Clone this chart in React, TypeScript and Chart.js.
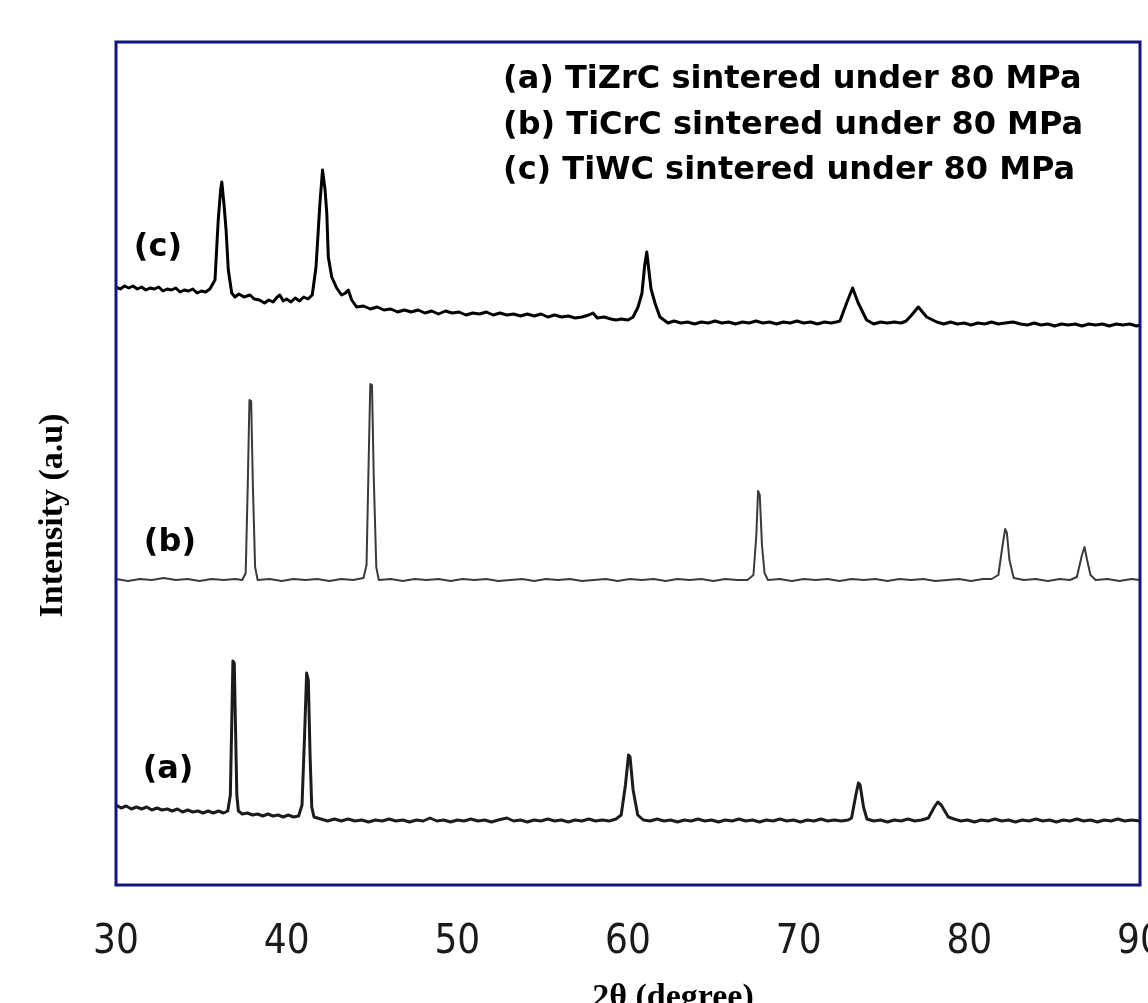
import React, { useEffect, useRef } from 'react';
import { Chart, registerables } from 'chart.js';

Chart.register(...registerables);

// ---- Data (2θ in degrees, intensity in arbitrary units) ----
const X_MIN = 30;
const X_MAX = 90;
const X_STEP = 10;
const Y_MIN = 0;
const Y_MAX = 843;

const SERIES_NAMES = ['(a)', '(b)', '(c)'];
const LEGEND_LINES = [
  '(a) TiZrC sintered under 80 MPa',
  '(b) TiCrC sintered under 80 MPa',
  '(c) TiWC sintered under 80 MPa',
];
const X_TITLE = '2θ (degree)';
const Y_TITLE = 'Intensity (a.u)';

// label anchor positions in data units (2θ, intensity)
const LABEL_X = [33.05, 33.16, 32.46];
const LABEL_Y = [115, 342, 637];

// [2θ, intensity]
const seriesA: [number, number][] = [
  [30.0, 80], [30.3, 77], [30.6, 79], [30.9, 76], [31.2, 78], [31.5, 76], [31.8, 78], [32.1, 75],
  [32.4, 77], [32.7, 75], [33.0, 76], [33.3, 74], [33.6, 76], [33.9, 73], [34.2, 75], [34.5, 73],
  [34.8, 74], [35.1, 72], [35.4, 74], [35.7, 72], [36.0, 74], [36.3, 72], [36.55, 74], [36.7, 90],
  [36.78, 160], [36.85, 224], [36.93, 222], [37.0, 160], [37.08, 90], [37.17, 74], [37.4, 71], [37.7, 72],
  [38.0, 70], [38.3, 71], [38.6, 69], [38.9, 71], [39.2, 69], [39.5, 70], [39.8, 68], [40.1, 70],
  [40.4, 68], [40.7, 69], [40.9, 80], [41.05, 150], [41.17, 212], [41.27, 205], [41.37, 130], [41.47, 78],
  [41.6, 68], [42.0, 66], [42.4, 64], [42.8, 66], [43.2, 64], [43.6, 66], [44.0, 64], [44.4, 65],
  [44.8, 63], [45.2, 65], [45.6, 64], [46.0, 66], [46.4, 64], [46.8, 65], [47.2, 63], [47.6, 65],
  [48.0, 64], [48.4, 67], [48.8, 64], [49.2, 65], [49.6, 63], [50.0, 65], [50.4, 64], [50.8, 66],
  [51.2, 64], [51.6, 65], [52.0, 63], [52.4, 65], [52.9, 67], [53.3, 64], [53.7, 65], [54.1, 63],
  [54.5, 65], [54.9, 64], [55.3, 66], [55.7, 64], [56.1, 65], [56.5, 63], [56.9, 65], [57.3, 64],
  [57.7, 66], [58.1, 64], [58.5, 65], [58.9, 64], [59.3, 66], [59.6, 70], [59.85, 100], [60.03, 130],
  [60.12, 128], [60.3, 95], [60.57, 70], [60.9, 65], [61.3, 64], [61.7, 66], [62.1, 64], [62.5, 65],
  [62.9, 63], [63.3, 65], [63.7, 64], [64.1, 66], [64.5, 64], [64.9, 65], [65.3, 63], [65.7, 65],
  [66.1, 64], [66.5, 66], [66.9, 64], [67.3, 65], [67.7, 63], [68.1, 65], [68.5, 64], [68.9, 66],
  [69.3, 64], [69.7, 65], [70.1, 63], [70.5, 65], [70.9, 64], [71.3, 66], [71.7, 64], [72.1, 65],
  [72.5, 64], [72.9, 65], [73.1, 67], [73.35, 90], [73.5, 102], [73.6, 100], [73.8, 78], [74.0, 66],
  [74.4, 64], [74.8, 65], [75.2, 63], [75.6, 65], [76.0, 64], [76.4, 66], [76.8, 64], [77.2, 65],
  [77.6, 67], [77.95, 78], [78.15, 83], [78.35, 80], [78.77, 68], [79.1, 66], [79.5, 64], [79.9, 65],
  [80.3, 63], [80.7, 65], [81.1, 64], [81.5, 66], [81.9, 64], [82.3, 65], [82.7, 63], [83.1, 65],
  [83.5, 64], [83.9, 66], [84.3, 64], [84.7, 65], [85.1, 63], [85.5, 65], [85.9, 64], [86.3, 66],
  [86.7, 64], [87.1, 65], [87.5, 63], [87.9, 65], [88.3, 64], [88.7, 66], [89.1, 64], [89.5, 65],
  [90.0, 64],
];

const seriesB: [number, number][] = [
  [30.0, 306], [30.7, 304], [31.4, 306], [32.1, 305], [32.8, 307], [33.5, 305], [34.2, 306], [34.9, 304],
  [35.6, 306], [36.3, 305], [37.0, 306], [37.4, 305], [37.6, 312], [37.72, 400], [37.82, 485], [37.92, 484],
  [38.02, 400], [38.15, 318], [38.3, 305], [39.0, 306], [39.7, 304], [40.4, 306], [41.1, 305], [41.8, 306],
  [42.5, 304], [43.2, 306], [43.9, 305], [44.5, 307], [44.68, 320], [44.8, 420], [44.9, 501], [45.0, 500],
  [45.1, 410], [45.25, 318], [45.4, 305], [46.1, 306], [46.8, 304], [47.5, 306], [48.2, 305], [48.9, 306],
  [49.6, 304], [50.3, 306], [51.0, 305], [51.7, 306], [52.4, 304], [53.1, 305], [53.8, 306], [54.5, 304],
  [55.2, 306], [55.9, 305], [56.6, 306], [57.3, 304], [58.0, 305], [58.7, 306], [59.4, 304], [60.1, 306],
  [60.8, 305], [61.5, 306], [62.2, 304], [62.9, 306], [63.6, 305], [64.3, 306], [65.0, 304], [65.7, 306],
  [66.4, 305], [67.0, 305], [67.35, 310], [67.52, 350], [67.62, 394], [67.72, 390], [67.85, 340], [68.0, 312],
  [68.2, 305], [68.9, 306], [69.6, 304], [70.3, 306], [71.0, 305], [71.7, 306], [72.4, 304], [73.1, 306],
  [73.8, 305], [74.5, 306], [75.2, 304], [75.9, 306], [76.6, 305], [77.3, 306], [78.0, 304], [78.7, 305],
  [79.4, 306], [80.1, 304], [80.8, 306], [81.3, 306], [81.7, 310], [81.95, 340], [82.1, 356], [82.2, 352],
  [82.35, 325], [82.6, 307], [83.2, 305], [83.9, 306], [84.6, 304], [85.3, 306], [85.9, 305], [86.3, 308],
  [86.6, 330], [86.75, 338], [86.9, 325], [87.1, 310], [87.4, 305], [88.1, 306], [88.8, 304], [89.5, 306],
  [90.0, 305],
];

const seriesC: [number, number][] = [
  [30.0, 598], [30.25, 596], [30.5, 599], [30.75, 597], [31.0, 599], [31.25, 596], [31.5, 598], [31.75, 595],
  [32.0, 597], [32.25, 596], [32.5, 598], [32.75, 594], [33.0, 596], [33.25, 595], [33.5, 597], [33.75, 593],
  [34.0, 595], [34.25, 594], [34.5, 596], [34.75, 592], [35.0, 594], [35.25, 593], [35.5, 596], [35.8, 605],
  [35.99, 665], [36.13, 695], [36.2, 703], [36.33, 680], [36.45, 655], [36.58, 615], [36.78, 592], [36.97, 588],
  [37.2, 591], [37.5, 588], [37.85, 590], [38.1, 586], [38.4, 585], [38.7, 582], [38.95, 585], [39.2, 583],
  [39.45, 588], [39.6, 590], [39.8, 584], [40.0, 586], [40.25, 583], [40.5, 587], [40.75, 584], [41.0, 588],
  [41.25, 586], [41.5, 590], [41.72, 618], [41.95, 682], [42.1, 715], [42.25, 695], [42.35, 672], [42.44, 628],
  [42.64, 608], [42.93, 597], [43.22, 590], [43.45, 592], [43.61, 595], [43.81, 585], [44.1, 578], [44.5, 579],
  [44.9, 576], [45.3, 578], [45.7, 575], [46.1, 576], [46.5, 573], [46.9, 575], [47.3, 573], [47.7, 575],
  [48.1, 572], [48.5, 574], [48.9, 571], [49.3, 574], [49.7, 572], [50.1, 573], [50.5, 570], [50.9, 572],
  [51.3, 571], [51.7, 573], [52.1, 570], [52.5, 572], [52.9, 570], [53.3, 571], [53.7, 569], [54.1, 571],
  [54.5, 569], [54.9, 571], [55.3, 568], [55.7, 570], [56.1, 568], [56.5, 569], [56.9, 567], [57.3, 568],
  [57.7, 570], [57.95, 572], [58.2, 567], [58.6, 568], [59.0, 566], [59.3, 565], [59.6, 566], [60.0, 565],
  [60.3, 568], [60.59, 578], [60.82, 592], [60.98, 620], [61.1, 633], [61.22, 615], [61.35, 596], [61.58, 582],
  [61.87, 568], [62.34, 562], [62.7, 564], [63.1, 562], [63.5, 563], [63.9, 561], [64.3, 563], [64.7, 562],
  [65.1, 564], [65.5, 562], [65.9, 563], [66.3, 561], [66.7, 563], [67.1, 562], [67.5, 564], [67.9, 562],
  [68.3, 563], [68.7, 561], [69.1, 563], [69.5, 562], [69.9, 564], [70.3, 562], [70.7, 563], [71.1, 561],
  [71.5, 563], [71.9, 562], [72.2, 563], [72.42, 564], [72.81, 582], [73.16, 597], [73.49, 582], [73.98, 565],
  [74.4, 561], [74.8, 563], [75.2, 562], [75.6, 563], [76.0, 562], [76.3, 564], [76.62, 570], [77.01, 578],
  [77.5, 568], [78.09, 563], [78.5, 561], [78.9, 563], [79.3, 561], [79.7, 562], [80.1, 560], [80.5, 562],
  [80.9, 561], [81.3, 563], [81.7, 561], [82.1, 562], [82.56, 563], [83.0, 561], [83.4, 560], [83.8, 562],
  [84.2, 560], [84.6, 561], [85.0, 559], [85.4, 561], [85.8, 560], [86.2, 561], [86.6, 559], [87.0, 561],
  [87.4, 560], [87.8, 561], [88.2, 559], [88.6, 561], [89.0, 560], [89.4, 561], [89.8, 559], [90.0, 560],
];

const toPoints = (pts: [number, number][]) => pts.map(([x, y]) => ({ x, y }));

const decorPlugin = {
  id: 'decor',
  afterDatasetsDraw(chart: any) {
    const { ctx, chartArea: a, scales } = chart;
    const xs = scales.x;
    const ys = scales.y;
    ctx.save();
    // frame
    ctx.strokeStyle = '#14147e';
    ctx.lineWidth = 3;
    ctx.strokeRect(a.left, a.top, a.right - a.left, a.bottom - a.top);

    // legend text
    ctx.fillStyle = '#000';
    ctx.font = 'bold 32px "DejaVu Sans", Verdana, sans-serif';
    ctx.textAlign = 'left';
    ctx.textBaseline = 'middle';
    LEGEND_LINES.forEach((t, i) => {
      ctx.fillText(t, a.left + 387, a.top + 38 + i * 45.5, 584);
    });

    // series labels
    ctx.textAlign = 'center';
    SERIES_NAMES.forEach((t, i) => {
      ctx.fillText(t, xs.getPixelForValue(LABEL_X[i]), ys.getPixelForValue(LABEL_Y[i]));
    });

    // y title
    ctx.font = 'bold 34px "Liberation Serif", "Times New Roman", serif';
    ctx.save();
    ctx.translate(53, (a.top + a.bottom) / 2 + 52);
    ctx.rotate(-Math.PI / 2);
    ctx.textAlign = 'center';
    ctx.textBaseline = 'middle';
    ctx.fillText(Y_TITLE, 0, 0, 206);
    ctx.restore();

    // x title
    ctx.textAlign = 'center';
    ctx.textBaseline = 'alphabetic';
    ctx.fillText(X_TITLE, (a.left + a.right) / 2 + 45, 1007, 175);
    ctx.restore();
  },
};

export default function App() {
  const canvasRef = useRef<HTMLCanvasElement | null>(null);

  useEffect(() => {
    const canvas = canvasRef.current;
    if (!canvas) return;
    const chart = new Chart(canvas, {
      type: 'line',
      data: {
        datasets: [
          {
            label: SERIES_NAMES[0],
            data: toPoints(seriesA),
            borderColor: '#1c1c1c',
            borderWidth: 3,
            borderJoinStyle: 'round',
            pointRadius: 0,
            tension: 0,
          },
          {
            label: SERIES_NAMES[1],
            data: toPoints(seriesB),
            borderColor: '#3a3a3a',
            borderWidth: 2,
            borderJoinStyle: 'round',
            pointRadius: 0,
            tension: 0,
          },
          {
            label: SERIES_NAMES[2],
            data: toPoints(seriesC),
            borderColor: '#000000',
            borderWidth: 3,
            borderJoinStyle: 'round',
            pointRadius: 0,
            tension: 0,
          },
        ],
      },
      options: {
        responsive: false,
        animation: false,
        devicePixelRatio: 1,
        layout: { padding: { left: 116, right: 8, top: 42, bottom: 0 } },
        plugins: {
          legend: { display: false },
          tooltip: { enabled: false },
          title: { display: false },
        },
        scales: {
          x: {
            type: 'linear',
            min: X_MIN,
            max: X_MAX,
            grid: { display: false },
            border: { display: false },
            ticks: {
              stepSize: X_STEP,
              color: '#1a1a1a',
              padding: 26,
              maxRotation: 0,
              autoSkip: false,
              font: {
                family: '"Liberation Sans Narrow", "DejaVu Sans Condensed", "Liberation Sans", sans-serif',
                size: 40,
              },
            },
            afterFit: (s: any) => {
              s.height = 118;
              s.paddingLeft = 0;
              s.paddingRight = 0;
            },
          },
          y: {
            type: 'linear',
            display: false,
            min: Y_MIN,
            max: Y_MAX,
          },
        },
      },
      plugins: [decorPlugin],
    });
    return () => chart.destroy();
  }, []);

  return (
    <div style={{ position: 'absolute', left: 0, top: 0, width: 1148, height: 1003, background: '#ffffff' }}>
      <canvas ref={canvasRef} width={1148} height={1003} style={{ display: 'block' }} />
    </div>
  );
}
